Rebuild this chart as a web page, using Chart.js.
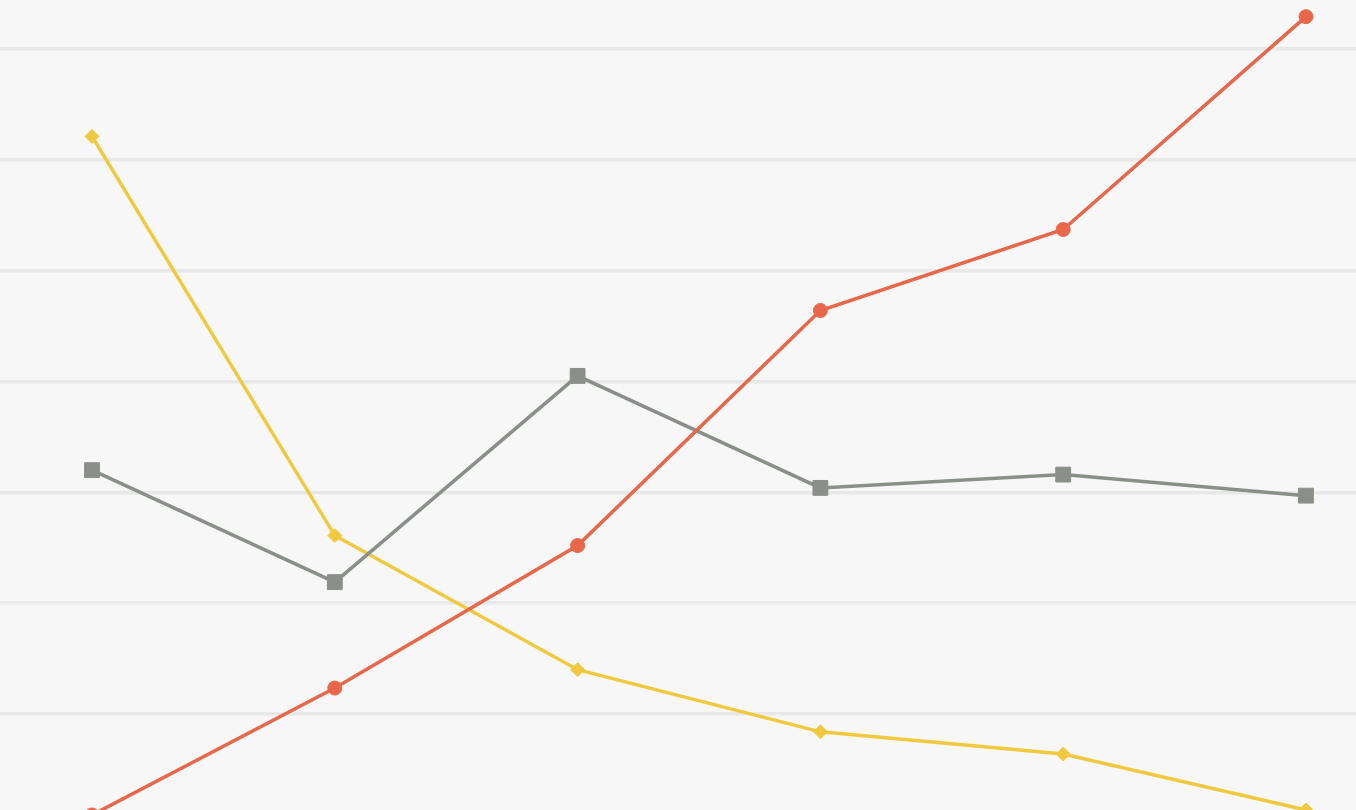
<!DOCTYPE html>
<html>
<head>
<meta charset="utf-8">
<script src="https://cdn.jsdelivr.net/npm/chart.js@4/dist/chart.umd.min.js"></script>
<style>
  html, body { margin: 0; padding: 0; background: #f7f7f7; overflow: hidden; }
  #wrap { width: 1356px; height: 810px; position: relative; }
</style>
</head>
<body>
<div id="wrap"><canvas id="myChart"></canvas></div>
<script>
// categories (x positions are category indexes)
const categorias = [0, 1, 2, 3, 4, 5];
const serieNaranja = [0.9, 12.35, 25.2, 46.4, 53.7, 72.9];
const serieGris = [32.0, 21.9, 40.5, 30.4, 31.6, 29.7];
const serieAmarilla = [62.1, 26.1, 14.0, 8.4, 6.4, 1.35];
const lineasGuia = [10, 20, 30, 40, 50, 60, 70];

const puntos = (valores) => valores.map((v, i) => ({ x: categorias[i], y: v }));

const ctx = document.getElementById('myChart').getContext('2d');
const myChart = new Chart(ctx, {
    type: 'line',
    data: {
        datasets: [
            {
                label: 'naranja',
                data: puntos(serieNaranja),
                borderColor: '#e8674a',
                backgroundColor: '#e8674a',
                borderWidth: 3.5,
                pointStyle: 'circle',
                pointRadius: 7,
                pointBorderWidth: 1,
                tension: 0
            },
            {
                label: 'gris',
                data: puntos(serieGris),
                borderColor: '#8a8f8a',
                backgroundColor: '#8a8f8a',
                borderWidth: 3.5,
                pointStyle: 'rect',
                pointRadius: 10.5,
                pointBorderWidth: 1,
                tension: 0
            },
            {
                label: 'amarilla',
                data: puntos(serieAmarilla),
                borderColor: '#f1c93f',
                backgroundColor: '#f1c93f',
                borderWidth: 3.5,
                pointStyle: 'rectRot',
                pointRadius: 7,
                pointBorderWidth: 1,
                tension: 0
            }
        ]
    },
    options: {
        responsive: true,
        maintainAspectRatio: false,
        animation: false,
        clip: false,
        layout: { padding: 0, autoPadding: false },
        plugins: { legend: { display: false }, tooltip: { enabled: false } },
        scales: {
            x: {
                type: 'linear',
                display: false,
                min: -0.379,
                max: 5.206
            },
            y: {
                type: 'linear',
                min: 1.35,
                max: 74.4,
                afterBuildTicks: (scale) => {
                    scale.ticks = lineasGuia.map(v => ({ value: v }));
                },
                ticks: { display: false },
                grid: { color: '#e8e8e8', lineWidth: 3.5, drawTicks: false },
                border: { display: false }
            }
        }
    }
});
</script>
</body>
</html>
